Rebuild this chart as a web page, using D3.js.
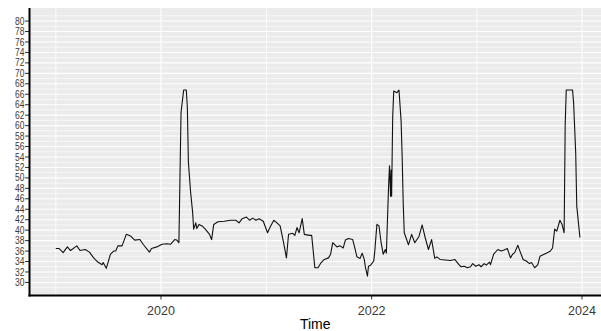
<!DOCTYPE html>
<html>
<head>
<meta charset="utf-8">
<script src="https://cdn.jsdelivr.net/npm/d3@7"></script>
<style>
  html, body { margin: 0; padding: 0; background: #fff; }
  svg { display: block; font-family: "Liberation Sans", Arial, sans-serif; }
</style>
</head>
<body>
<div id="chart"></div>
<script>
// weekly-ish readings, dates as decimal years
const times = [
  2019.00, 2019.03, 2019.07, 2019.11, 2019.14, 2019.20, 2019.23, 2019.28, 2019.32, 2019.36,
  2019.40, 2019.44, 2019.45, 2019.48, 2019.52, 2019.55, 2019.57, 2019.59, 2019.63, 2019.67,
  2019.71, 2019.75, 2019.80, 2019.83, 2019.89, 2019.91, 2019.96, 2020.01, 2020.06, 2020.09,
  2020.13, 2020.15, 2020.17, 2020.19, 2020.215, 2020.24, 2020.25, 2020.26, 2020.28, 2020.30,
  2020.31, 2020.33, 2020.34, 2020.36, 2020.39, 2020.42, 2020.46, 2020.48, 2020.50, 2020.54,
  2020.60, 2020.66, 2020.71, 2020.74, 2020.77, 2020.81, 2020.84, 2020.87, 2020.90, 2020.93,
  2020.97, 2021.01, 2021.04, 2021.07, 2021.10, 2021.13, 2021.16, 2021.19, 2021.21, 2021.25,
  2021.27, 2021.29, 2021.31, 2021.34, 2021.36, 2021.41, 2021.43, 2021.46, 2021.49, 2021.52,
  2021.55, 2021.59, 2021.61, 2021.63, 2021.67, 2021.70, 2021.73, 2021.75, 2021.78, 2021.82,
  2021.84, 2021.86, 2021.89, 2021.91, 2021.93, 2021.94, 2021.96, 2021.97, 2021.99, 2022.02,
  2022.03, 2022.05, 2022.07, 2022.09, 2022.11, 2022.13, 2022.14, 2022.16, 2022.17, 2022.18,
  2022.185, 2022.19, 2022.20, 2022.21, 2022.24, 2022.26, 2022.28, 2022.29, 2022.30, 2022.31,
  2022.35, 2022.38, 2022.41, 2022.45, 2022.48, 2022.51, 2022.54, 2022.57, 2022.60, 2022.62,
  2022.65, 2022.70, 2022.75, 2022.79, 2022.83, 2022.85, 2022.88, 2022.91, 2022.94, 2022.96,
  2022.99, 2023.02, 2023.04, 2023.07, 2023.09, 2023.12, 2023.13, 2023.16, 2023.20, 2023.23,
  2023.26, 2023.29, 2023.32, 2023.34, 2023.36, 2023.39, 2023.41, 2023.44, 2023.47, 2023.50,
  2023.52, 2023.55, 2023.58, 2023.60, 2023.64, 2023.67, 2023.70, 2023.72, 2023.74, 2023.76,
  2023.79, 2023.81, 2023.83, 2023.84, 2023.85, 2023.91, 2023.92, 2023.94, 2023.95, 2023.98
];
const values = [
  36.5, 36.5, 35.7, 36.8, 36.1, 37.0, 36.1, 36.3, 35.8, 34.7,
  33.9, 33.4, 33.8, 32.7, 35.4, 36.0, 36.0, 37.0, 37.0, 39.2,
  38.9, 38.1, 38.2, 37.3, 35.8, 36.5, 36.8, 37.3, 37.4, 37.3,
  38.2, 38.1, 37.6, 62.5, 66.8, 66.8, 63.5, 53.0, 47.5, 43.4,
  40.2, 41.4, 40.3, 41.1, 40.8, 40.2, 39.2, 38.2, 41.1, 41.6,
  41.7, 41.9, 41.9, 41.4, 42.2, 42.5, 41.9, 42.3, 41.9, 42.2,
  41.7, 39.5, 40.8, 41.9, 41.4, 40.8, 37.9, 34.7, 39.2, 39.4,
  39.0, 40.5, 39.5, 42.2, 39.2, 39.0, 39.0, 32.8, 32.8, 33.8,
  34.4, 34.7, 35.4, 37.6, 36.8, 37.0, 36.6, 38.1, 38.4, 38.2,
  36.6, 34.9, 34.6, 35.6, 34.4, 33.0, 31.2, 33.1, 33.3, 34.1,
  36.0, 41.1, 40.8, 37.6, 35.4, 36.3, 35.6, 47.8, 52.3, 46.5,
  51.5, 46.5, 61.5, 66.6, 66.3, 66.8, 60.9, 54.2, 45.3, 39.5,
  37.2, 39.2, 37.6, 38.8, 41.0, 38.5, 36.3, 38.2, 34.6, 34.9,
  34.4, 34.3, 34.2, 34.4, 33.4, 33.0, 33.1, 32.8, 33.0, 33.6,
  33.1, 33.4, 33.0, 33.6, 33.3, 33.9, 33.4, 35.4, 36.3, 36.0,
  36.2, 36.5, 34.7, 35.4, 35.7, 37.1, 36.0, 34.4, 34.1, 33.6,
  33.8, 32.8, 33.4, 35.0, 35.4, 35.7, 36.0, 36.6, 40.2, 39.8,
  41.9, 41.1, 39.5, 60.0, 66.8, 66.8, 64.4, 54.8, 44.6, 38.6
];
const yTicks = d3.range(30, 81, 2);
const yMinor = d3.range(29, 82, 2);
const xTickYears = [2020, 2022, 2024];
const xMinorYears = [2019, 2021, 2023];

function toDate(t) {
  const yr = Math.floor(t);
  const start = Date.UTC(yr, 0, 1), end = Date.UTC(yr + 1, 0, 1);
  return new Date(start + (t - yr) * (end - start));
}

const width = 601, height = 331;
const panelLeft = 29.5, panelRight = 601, panelTop = 8, panelBottom = 295.5;

const data = times.map((t, i) => ({ date: toDate(t), value: values[i] }));

const x = d3.scaleUtc()
  .domain([toDate(2018.75), toDate(2024.18)])
  .range([panelLeft, panelRight]);
const y = d3.scaleLinear()
  .domain([27.5, 82.5])
  .range([panelBottom, panelTop]);

const svg = d3.select("#chart").append("svg")
  .attr("width", width).attr("height", height);

// panel
svg.append("rect")
  .attr("x", panelLeft).attr("y", panelTop)
  .attr("width", panelRight - panelLeft).attr("height", panelBottom - panelTop)
  .attr("fill", "#EBEBEB");

const grid = svg.append("g").attr("stroke", "#fff");
grid.selectAll("line.ymin").data(yMinor).enter().append("line")
  .attr("x1", panelLeft).attr("x2", panelRight)
  .attr("y1", d => y(d)).attr("y2", d => y(d))
  .attr("stroke-width", 0.6);
grid.selectAll("line.ymaj").data(yTicks).enter().append("line")
  .attr("x1", panelLeft).attr("x2", panelRight)
  .attr("y1", d => y(d)).attr("y2", d => y(d))
  .attr("stroke-width", 1.1);
grid.selectAll("line.xmin").data(xMinorYears).enter().append("line")
  .attr("y1", panelTop).attr("y2", panelBottom)
  .attr("x1", d => x(toDate(d))).attr("x2", d => x(toDate(d)))
  .attr("stroke-width", 0.8);
grid.selectAll("line.xmaj").data(xTickYears).enter().append("line")
  .attr("y1", panelTop).attr("y2", panelBottom)
  .attr("x1", d => x(toDate(d))).attr("x2", d => x(toDate(d)))
  .attr("stroke-width", 1.1);

// series
const line = d3.line()
  .x(d => x(d.date))
  .y(d => y(d.value));
svg.append("path")
  .datum(data)
  .attr("fill", "none")
  .attr("stroke", "#111")
  .attr("stroke-width", 1.1)
  .attr("stroke-linejoin", "round")
  .attr("d", line);

// y axis
const yAxis = svg.append("g");
yAxis.selectAll("line").data(yTicks).enter().append("line")
  .attr("x1", panelLeft - 4.5).attr("x2", panelLeft)
  .attr("y1", d => y(d)).attr("y2", d => y(d))
  .attr("stroke", "#333").attr("stroke-width", 1);
const sx = 0.85;
yAxis.append("g").attr("transform", `scale(${sx},1)`)
  .selectAll("text").data(yTicks).enter().append("text")
  .attr("x", 24.5 / sx)
  .attr("y", d => y(d))
  .attr("dy", "0.36em")
  .attr("text-anchor", "end")
  .attr("font-size", 10)
  .attr("fill", "#3a3a3a")
  .text(d => d);

// x axis
const xAxis = svg.append("g");
xAxis.selectAll("line").data(xTickYears).enter().append("line")
  .attr("x1", d => x(toDate(d))).attr("x2", d => x(toDate(d)))
  .attr("y1", panelBottom).attr("y2", panelBottom + 4)
  .attr("stroke", "#333").attr("stroke-width", 1);
xAxis.selectAll("text").data(xTickYears).enter().append("text")
  .attr("x", d => x(toDate(d)))
  .attr("y", 314.5)
  .attr("text-anchor", "middle")
  .attr("font-size", 12.5)
  .attr("fill", "#3a3a3a")
  .text(d => d);

// axis lines
svg.append("line")
  .attr("x1", panelLeft).attr("x2", panelLeft).attr("y1", panelTop).attr("y2", panelBottom + 1)
  .attr("stroke", "#000").attr("stroke-width", 2);
svg.append("line")
  .attr("x1", panelLeft - 1).attr("x2", panelRight).attr("y1", panelBottom).attr("y2", panelBottom)
  .attr("stroke", "#000").attr("stroke-width", 2);

svg.append("text")
  .attr("x", (panelLeft + panelRight) / 2)
  .attr("y", 329)
  .attr("text-anchor", "middle")
  .attr("font-size", 14)
  .attr("fill", "#000")
  .text("Time");
</script>
</body>
</html>
